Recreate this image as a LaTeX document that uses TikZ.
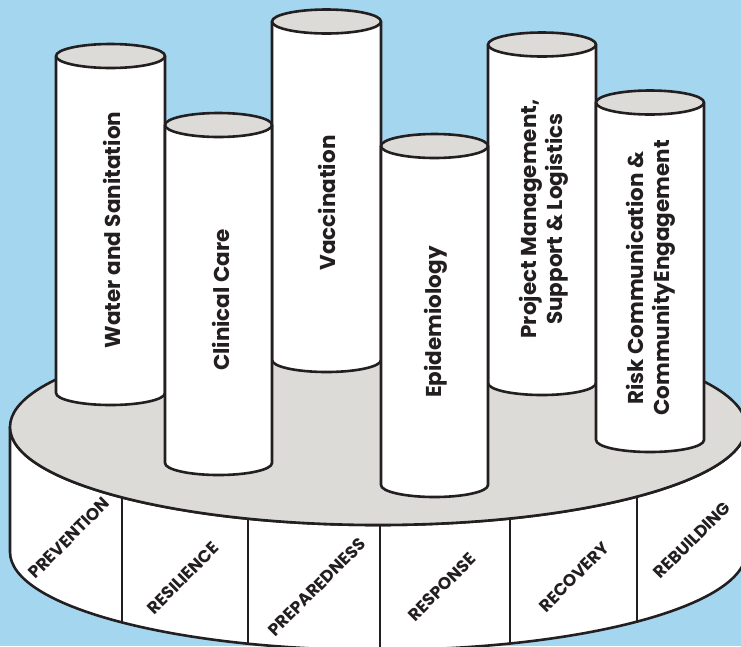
\documentclass[tikz,border=0pt]{standalone}
\usepackage{fontspec}
\setmainfont{Poppins}
\definecolor{sky}{RGB}{164,214,240}
\definecolor{ink}{RGB}{35,31,32}
\definecolor{disc}{RGB}{220,219,216}

% one column: left x, right x, centre y of top, centre y of bottom
\newcommand\drawpillar[4]{%
  \pgfmathsetmacro\pcx{(#1+#2)/2}%
  \pgfmathsetmacro\prx{(#2-#1)/2}%
  \path[outline,fill=white] (#1,#3) -- (#1,#4)
    arc[start angle=180,end angle=0,x radius=\prx,y radius=12] -- (#2,#3) -- cycle;
  \path[outline,fill=disc] (\pcx,#3) ellipse[x radius=\prx,y radius=12];
}

\begin{document}
\begin{tikzpicture}[x=1pt,y=-1pt,
  outline/.style={draw=ink,line width=2.6pt,line join=round},
  pillarlabel/.style={rotate=90,font=\bfseries\fontsize{21.5}{25.5}\selectfont,
    text=ink,align=center,inner sep=0pt},
  phaselabel/.style={rotate=45,font=\bfseries\fontsize{17}{19}\selectfont,
    text=ink,inner sep=0pt}]

\useasboundingbox (0,0) rectangle (741,646);
\fill[sky] (0,0) rectangle (741,646);

\begin{scope}
\clip (0,0) rectangle (741,646);
% the round platform
\coordinate (base) at (378,427);
\path[outline,fill=white] (10,427) -- (10,552)
  arc[start angle=180,end angle=0,x radius=368,y radius=98] -- (746,427)
  arc[start angle=0,end angle=180,x radius=368,y radius=98] -- cycle;
\path[outline,fill=disc] (base) ellipse[x radius=368,y radius=98];
\foreach \x in {122,248,380,510,637}{
  \pgfmathsetmacro\yy{427+98*sqrt(1-((\x-378)/368)^2)}
  \draw[outline] (\x,\yy) -- (\x,\yy+125);
}
\end{scope}

% phases around the rim
\node[phaselabel] (prevention)   at (69,538)  {PREVENTION};
\node[phaselabel] (resilience)   at (183,578) {RESILIENCE};
\node[phaselabel] (preparedness) at (317,587) {PREPAREDNESS};
\node[phaselabel] (response)     at (442,587) {RESPONSE};
\node[phaselabel] (recovery)     at (574,577) {RECOVERY};
\node[phaselabel] (rebuilding)   at (692,540) {REBUILDING};

% columns, back to front
\drawpillar{272}{381}{21.5}{360}
\drawpillar{488}{596}{44.5}{383}
\drawpillar{56}{165}{56}{393}
\drawpillar{596}{704}{102.5}{440}
\drawpillar{165}{272}{125}{463}
\drawpillar{381}{488}{146}{485}

\node[pillarlabel] (water)    at (112,230) {Water and Sanitation};
\node[pillarlabel] (clinical) at (221,300) {Clinical Care};
\node[pillarlabel] (vaccine)  at (327,203) {Vaccination};
\node[pillarlabel] (epi)      at (436,322) {Epidemiology};
\node[pillarlabel] (project)  at (544,219) {Project Management,\\Support \& Logistics};
\node[pillarlabel] (risk)     at (651,278) {Risk Communication \&\\CommunityEngagement};
\end{tikzpicture}
\end{document}
